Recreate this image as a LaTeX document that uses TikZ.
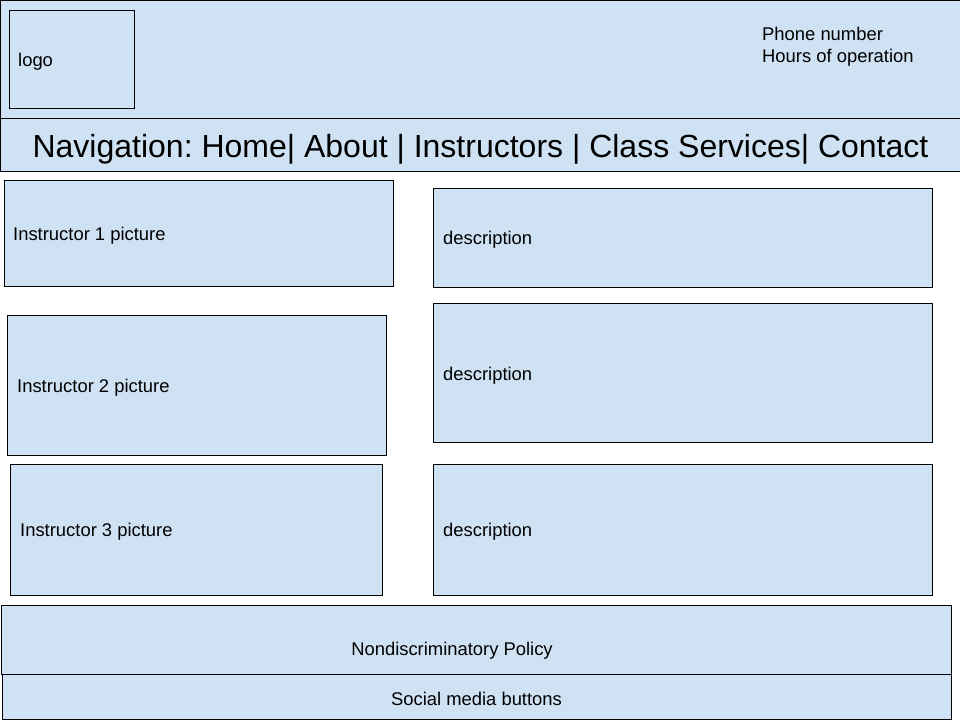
\documentclass[tikz,border=0pt]{standalone}
\usepackage{fontspec}
\setmainfont{Liberation Sans}
\frenchspacing
\definecolor{boxblue}{HTML}{CFE2F3}
\begin{document}
\begin{tikzpicture}[x=1pt,y=-1pt,
  box/.style={draw=black,fill=boxblue,line width=1pt,inner sep=0pt,outer sep=0pt,anchor=north west},
  lbl/.style={anchor=west,inner sep=0pt,font=\fontsize{18.4}{22}\selectfont},
  clbl/.style={anchor=center,inner sep=0pt,font=\fontsize{18.4}{22}\selectfont}]
\useasboundingbox (0,0) rectangle (960,720);
\fill[white] (0,0) rectangle (960,720);
% header
\node[box,minimum width=962pt,minimum height=118pt] (header) at (0,0) {};
\node[box,minimum width=125pt,minimum height=98pt] (logo) at (9,10) {};
\node[lbl] (logot) at (18,62) {logo};
\node[anchor=north west,inner sep=0pt,align=left,font=\fontsize{18.4}{22}\selectfont] (phone) at (762,27) {Phone number\\Hours of operation};
% navigation
\node[box,minimum width=962pt,minimum height=53pt] (nav) at (0,118) {};
\node[anchor=center,inner sep=0pt,font=\fontsize{32}{36}\selectfont] (navt) at (480.5,149) {Navigation: Home| About | Instructors | Class Services| Contact};
% instructors
\node[box,minimum width=389pt,minimum height=106pt] (i1) at (4,180) {};
\node[lbl] (i1t) at (13,236) {Instructor 1 picture};
\node[box,minimum width=499pt,minimum height=99pt] (d1) at (433,188) {};
\node[lbl] (d1t) at (443,240) {description};
\node[box,minimum width=379pt,minimum height=140pt] (i2) at (7,315) {};
\node[lbl] (i2t) at (17,388) {Instructor 2 picture};
\node[box,minimum width=499pt,minimum height=139pt] (d2) at (433,303) {};
\node[lbl] (d2t) at (443,376) {description};
\node[box,minimum width=372pt,minimum height=131pt] (i3) at (10,464) {};
\node[lbl] (i3t) at (20,532) {Instructor 3 picture};
\node[box,minimum width=499pt,minimum height=131pt] (d3) at (433,464) {};
\node[lbl] (d3t) at (443,532) {description};
% footer
\node[box,minimum width=950pt,minimum height=69pt] (policy) at (1,605) {};
\node[clbl] (policyt) at (452,651) {Nondiscriminatory Policy};
\node[box,minimum width=949pt,minimum height=45pt] (social) at (2,674) {};
\node[clbl] (socialt) at (476.5,699) {Social media buttons};
\end{tikzpicture}
\end{document}
